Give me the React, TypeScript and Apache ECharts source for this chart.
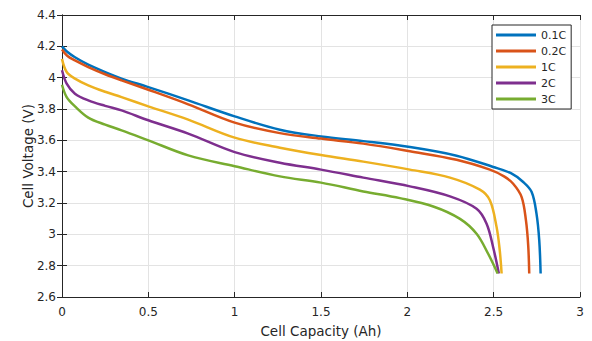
import React, { useEffect, useRef } from "react";
import * as echarts from "echarts";

const seriesNames = ["0.1C", "0.2C", "1C", "2C", "3C"];
const seriesColors = ["#0072BD", "#D95319", "#EDB120", "#7E2F8E", "#77AC30"];

const cap01 = [0, 0.03, 0.075, 0.152, 0.25, 0.345, 0.5, 0.731, 1.0, 1.262, 1.5, 1.745, 2.015, 2.285, 2.497, 2.6, 2.671, 2.72, 2.748, 2.764, 2.772];
const volt01 = [4.2, 4.165, 4.13, 4.083, 4.035, 3.994, 3.94, 3.855, 3.753, 3.668, 3.625, 3.595, 3.557, 3.502, 3.43, 3.39, 3.334, 3.27, 3.132, 2.961, 2.75];

const cap02 = [0, 0.03, 0.075, 0.152, 0.25, 0.345, 0.5, 0.731, 1.0, 1.262, 1.5, 1.745, 2.015, 2.285, 2.478, 2.56, 2.613, 2.662, 2.687, 2.7, 2.706];
const volt02 = [4.18, 4.14, 4.11, 4.068, 4.022, 3.983, 3.923, 3.83, 3.713, 3.646, 3.611, 3.579, 3.53, 3.476, 3.413, 3.37, 3.323, 3.238, 3.089, 2.93, 2.75];

const cap1 = [0, 0.027, 0.075, 0.152, 0.25, 0.345, 0.5, 0.731, 1.0, 1.262, 1.5, 1.745, 2.015, 2.247, 2.42, 2.478, 2.517, 2.535, 2.546];
const volt1 = [4.12, 4.036, 3.994, 3.951, 3.91, 3.876, 3.817, 3.732, 3.617, 3.553, 3.506, 3.464, 3.413, 3.362, 3.285, 3.217, 3.046, 2.9, 2.75];

const cap2 = [0, 0.027, 0.075, 0.152, 0.25, 0.345, 0.5, 0.731, 1.0, 1.262, 1.5, 1.745, 2.015, 2.247, 2.401, 2.459, 2.497, 2.53];
const volt2 = [4.047, 3.962, 3.898, 3.855, 3.82, 3.791, 3.728, 3.643, 3.525, 3.457, 3.413, 3.362, 3.306, 3.242, 3.163, 3.068, 2.918, 2.75];

const cap3 = [0, 0.027, 0.075, 0.152, 0.25, 0.345, 0.5, 0.731, 1.0, 1.262, 1.5, 1.745, 1.957, 2.15, 2.305, 2.401, 2.468, 2.523];
const volt3 = [3.955, 3.876, 3.817, 3.745, 3.7, 3.664, 3.6, 3.504, 3.435, 3.37, 3.33, 3.274, 3.231, 3.178, 3.099, 3.004, 2.876, 2.75];

const capArrays = [cap01, cap02, cap1, cap2, cap3];
const voltArrays = [volt01, volt02, volt1, volt2, volt3];

const xTitle = "Cell Capacity (Ah)";
const yTitle = "Cell Voltage (V)";

export default function App() {
  const ref = useRef<HTMLDivElement>(null);
  useEffect(() => {
    if (!ref.current) return;
    const chart = echarts.init(ref.current, undefined, { renderer: "svg" });
    const txt = "#262626";
    const font = "DejaVu Sans";
    const gridColor = "#e3e3e3";
    const axisCommon = (min: number, max: number, interval: number) => ({
      type: "value" as const,
      min,
      max,
      interval,
      axisLine: { show: true, lineStyle: { color: txt, width: 1 } },
      axisTick: { show: true, inside: true, length: 5, lineStyle: { color: txt } },
    });
    chart.setOption({
      animation: false,
      backgroundColor: "#ffffff",
      grid: {
        left: 62,
        right: 12,
        top: 15,
        bottom: 44,
        containLabel: false,
        outerBoundsMode: "none",
      },
      legend: {
        orient: "vertical",
        left: 492,
        top: 25,
        backgroundColor: "#ffffff",
        borderColor: txt,
        borderWidth: 1,
        borderRadius: 0,
        padding: [4, 5, 4, 4],
        itemGap: 4,
        itemWidth: 40,
        itemHeight: 3,
        icon: "rect",
        textStyle: { fontFamily: font, fontSize: 11, color: txt, lineHeight: 12 },
        data: seriesNames,
      },
      xAxis: [
        {
          ...axisCommon(0, 3, 0.5),
          position: "bottom",
          name: xTitle,
          nameLocation: "middle",
          nameGap: 27,
          nameMoveOverlap: false,
          nameTextStyle: { fontFamily: font, fontSize: 13.5, color: txt },
          axisLabel: { fontFamily: font, fontSize: 12, color: txt, margin: 9 },
          splitLine: { show: true, lineStyle: { color: gridColor, width: 1 } },
        },
        {
          ...axisCommon(0, 3, 0.5),
          position: "top",
          axisLabel: { show: false },
          splitLine: { show: false },
        },
      ],
      yAxis: [
        {
          ...axisCommon(2.6, 4.4, 0.2),
          position: "left",
          name: yTitle,
          nameLocation: "middle",
          nameGap: 27,
          nameMoveOverlap: false,
          nameTextStyle: { fontFamily: font, fontSize: 13.5, color: txt },
          axisLabel: {
            fontFamily: font,
            fontSize: 12,
            color: txt,
            margin: 6,
            formatter: (v: number) => String(Math.round(v * 10) / 10),
          },
          splitLine: { show: true, lineStyle: { color: gridColor, width: 1 } },
        },
        {
          ...axisCommon(2.6, 4.4, 0.2),
          position: "right",
          axisLabel: { show: false },
          splitLine: { show: false },
        },
      ],
      series: seriesNames.map((name, i) => ({
        name,
        type: "line",
        xAxisIndex: 0,
        yAxisIndex: 0,
        data: capArrays[i].map((c, j) => [c, voltArrays[i][j]]),
        showSymbol: false,
        symbol: "none",
        smooth: 0.35,
        lineStyle: { color: seriesColors[i], width: 2.5 },
        itemStyle: { color: seriesColors[i] },
      })),
    });
    return () => chart.dispose();
  }, []);
  return (
    <div
      ref={ref}
      style={{ position: "fixed", left: 0, top: 0, width: 592, height: 341 }}
    />
  );
}
